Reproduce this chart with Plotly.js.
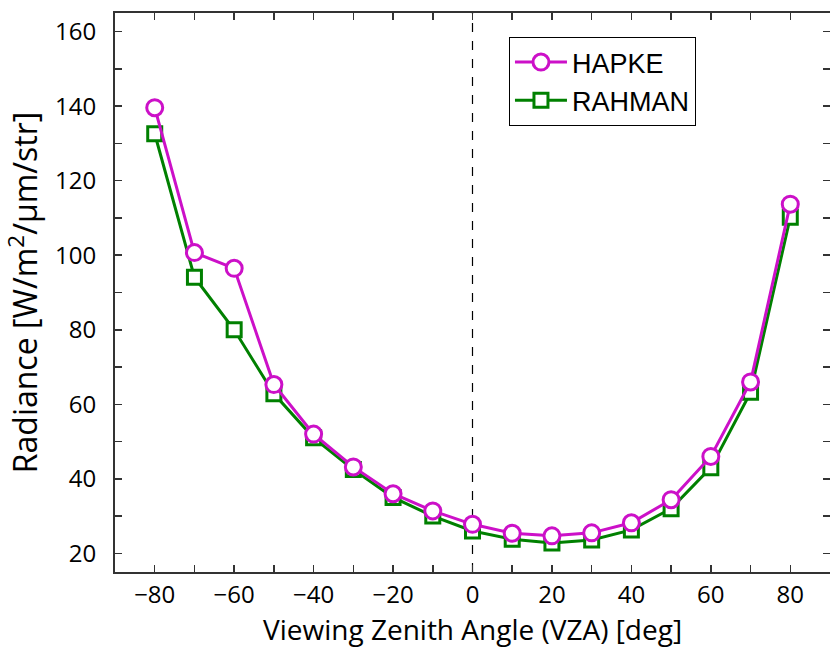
<!DOCTYPE html>
<html>
<head>
<meta charset="utf-8">
<script src="https://cdn.plot.ly/plotly-3.0.1.min.js"></script>
<style>html,body{margin:0;padding:0;background:#fff;}#chart{width:830px;height:647px;}</style>
</head>
<body>
<div id="chart"></div>
<script>
const vza = [-80, -70, -60, -50, -40, -30, -20, -10, 0, 10, 20, 30, 40, 50, 60, 70, 80];
const hapke = [139.6, 100.7, 96.5, 65.3, 52.0, 43.2, 36.0, 31.4, 27.8, 25.4, 24.7, 25.5, 28.2, 34.4, 46.0, 66.0, 113.7];
const rahman = [132.6, 94.1, 80.0, 62.8, 51.0, 42.5, 35.0, 30.0, 26.0, 23.8, 22.8, 23.6, 26.3, 32.0, 43.0, 63.2, 110.2];
const xTicks = [-80, -60, -40, -20, 0, 20, 40, 60, 80];
const yTicks = [20, 40, 60, 80, 100, 120, 140, 160];
const xTitle = 'Viewing Zenith Angle (VZA) [deg]';
const yTitle = 'Radiance [W/m<sup>2</sup>/\u03bcm/str]';

const tickFont = {family: 'Open Sans, Noto Sans, sans-serif', size: 24, color: '#000'};

const traces = [
  {
    x: vza, y: rahman, name: 'RAHMAN', mode: 'lines+markers', legendrank: 2,
    line: {color: '#008000', width: 3},
    marker: {symbol: 'square', size: 14, color: '#ffffff', line: {color: '#008000', width: 3}}
  },
  {
    x: vza, y: hapke, name: 'HAPKE', mode: 'lines+markers', legendrank: 1,
    line: {color: '#cc10c8', width: 3},
    marker: {symbol: 'circle', size: 16, color: '#ffffff', line: {color: '#cc10c8', width: 3}}
  }
];

const layout = {
  width: 830, height: 647,
  margin: {l: 115, r: 0, t: 13, b: 75},
  paper_bgcolor: '#fff', plot_bgcolor: '#fff',
  showlegend: true,
  legend: {
    x: 0.551, y: 0.957, xanchor: 'left', yanchor: 'top',
    bordercolor: '#000', borderwidth: 1, bgcolor: '#fff',
    font: {family: 'Liberation Sans, Arial, sans-serif', size: 27, color: '#000'},
    itemwidth: 52, tracegroupgap: 0
  },
  xaxis: {
    range: [-90, 90], tickvals: xTicks, ticktext: xTicks.map(v => v < 0 ? '\u2212' + Math.abs(v) : String(v)),
    ticks: 'inside', ticklen: 7, tickwidth: 1.5, tickcolor: '#333',
    minor: {tickvals: [-90,-70,-50,-30,-10,10,30,50,70,90], ticks: 'inside', ticklen: 7, tickwidth: 1.5, tickcolor: '#333'},
    showline: true, linecolor: '#333', linewidth: 2, mirror: 'ticks',
    showgrid: false, zeroline: false,
    tickfont: tickFont, ticklabelstandoff: 0
  },
  yaxis: {
    range: [15, 165], tickvals: yTicks,
    ticks: 'inside', ticklen: 7, tickwidth: 1.5, tickcolor: '#333',
    minor: {tickvals: [30, 50, 70, 90, 110, 130, 150], ticks: 'inside', ticklen: 7, tickwidth: 1.5, tickcolor: '#333'},
    showline: true, linecolor: '#333', linewidth: 2, mirror: 'ticks',
    showgrid: false, zeroline: false,
    tickfont: tickFont, ticklabelstandoff: 12,
    title: {text: yTitle, font: {family: 'Open Sans, Noto Sans, sans-serif', size: 32, color: '#000'}, standoff: 8}
  },
  annotations: [
    {text: xTitle, xref: 'paper', yref: 'paper', x: 0.5, y: -0.064, xanchor: 'center', yanchor: 'top',
     showarrow: false, font: {family: 'Open Sans, Noto Sans, sans-serif', size: 28, color: '#000'}}
  ],
  shapes: [
    {type: 'line', xref: 'x', yref: 'paper', x0: 0, x1: 0, y0: 0, y1: 1, line: {color: '#000', width: 1.2, dash: 'dash'}, layer: 'below'}
  ]
};

Plotly.newPlot('chart', traces, layout, {displayModeBar: false, staticPlot: true});
</script>
</body>
</html>
